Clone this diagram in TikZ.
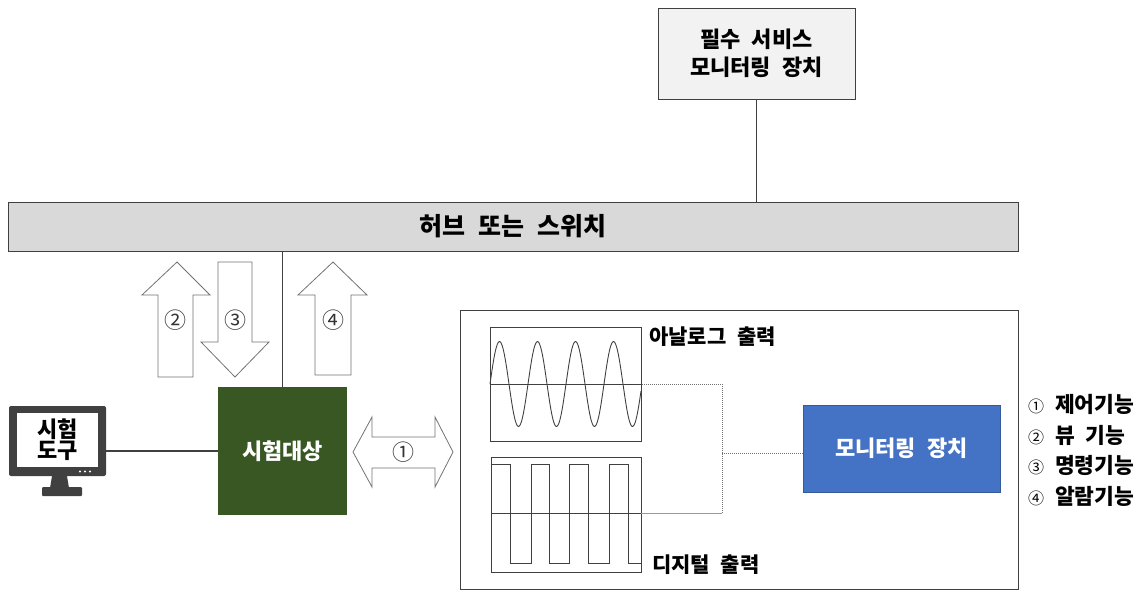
\documentclass[tikz,border=0pt]{standalone}
\usepackage{fontspec}
\setmainfont{Noto Sans CJK KR}[WordSpace=2.2]
\definecolor{hubgray}{HTML}{D9D9D9}
\definecolor{svcgray}{HTML}{F2F2F2}
\definecolor{dutgreen}{HTML}{385723}
\definecolor{monblue}{HTML}{4472C4}
\definecolor{edge}{HTML}{404040}

\begin{document}
\begin{tikzpicture}[x=1pt,y=-1pt,
    box/.style={draw=edge, line width=1pt, inner sep=0pt, align=center,
        font=\bfseries\fontsize{22}{28}\selectfont},
    blockarrow/.style={draw=black!55, fill=white, line width=0.8pt},
    num/.style={font=\fontsize{22}{22}\selectfont, text=black!80},
    lbl/.style={font=\bfseries\fontsize{21}{21}\selectfont, inner sep=0pt},
    wire/.style={draw=edge, line width=1.2pt},
    wave/.style={draw=edge, line width=0.9pt},
    dots/.style={draw=black!55, densely dotted, line width=1pt}]

    \useasboundingbox (0,0) rectangle (1137,590);

    % service monitor and hub
    \node[box, fill=svcgray, minimum width=197pt, minimum height=91pt] (svc)
        at (756.5,53.5) {필수 서비스\\모니터링 장치};
    \node[box, fill=hubgray, minimum width=1010pt, minimum height=49pt,
        font=\bfseries\fontsize{25}{25}\selectfont] (hub) at (513,226.5) {허브 또는 스위치};
    \draw[wire] (svc.south) -- (svc.south |- hub.north);

    % device under test
    \node[box, draw=none, fill=dutgreen, text=white, minimum width=129pt,
        minimum height=128pt] (dut) at (282.5,451) {시험대상};
    \draw[wire] (dut.north |- hub.south) -- (dut.north);

    % test tool
    \node[fill=edge, rounded corners=2pt, minimum width=97pt, minimum height=70pt,
        inner sep=0pt] (pc) at (57.5,441) {};
    \node[fill=white, minimum width=81pt, minimum height=54pt, inner sep=0pt, align=center,
        font=\bfseries\fontsize{22}{21}\selectfont] (tool) at (57.5,440) {시험\\도구};
    \fill[edge] (52,476) -- (67,476) -- (69,488) -- (50,488) -- cycle;
    \fill[edge, rounded corners=1pt] (42,487) rectangle (82,496);
    \foreach \dx in {80,85,90}
        \fill[white] (\dx,471.5) circle (1.2);
    \draw[wire] (pc.east |- dut.west) -- (dut.west);

    % block arrows
    \draw[blockarrow] (158,377) -- (158,295) -- (142,295) -- (177,262) -- (210,295)
        -- (193,295) -- (193,377) -- cycle;
    \node[num] (n2) at (175.5,320) {②};
    \draw[blockarrow] (218,262) -- (252,262) -- (252,342) -- (269,342) -- (235,377)
        -- (201,342) -- (218,342) -- cycle;
    \node[num] (n3) at (235,320) {③};
    \draw[blockarrow] (315,375) -- (315,295) -- (298,295) -- (333,262) -- (367,295)
        -- (351,295) -- (351,375) -- cycle;
    \node[num] (n4) at (333,320) {④};
    \draw[blockarrow] (353,452) -- (372,417) -- (372,437) -- (435,437) -- (435,417)
        -- (453,452) -- (435,487) -- (435,468) -- (372,468) -- (372,487) -- cycle;
    \node[num] (n1) at (403,452) {①};

    % measurement frame
    \draw[edge, line width=1pt] (460,310) rectangle (1018,589);

    % analog output
    \node[draw=edge, line width=1pt, minimum width=151pt, minimum height=114pt,
        inner sep=0pt] (ana) at (565.5,384) {};
    \draw[wave] (ana.west) -- (ana.east);
    \draw[wave, domain=0:151, samples=150, smooth]
        plot ({490+\x}, {384-42.5*sin(\x/38*360)});
    \node[lbl, anchor=west] (analbl) at (649,337) {아날로그 출력};

    % digital output
    \node[draw=edge, line width=1pt, minimum width=150pt, minimum height=115pt,
        inner sep=0pt] (dig) at (566,514.5) {};
    \coordinate (digout) at (641,513);
    \draw[wave] (491,513) -- (digout);
    \draw[wave] (491,464) -| (510,563) -| (531,464) -| (549,563) -| (569,464)
        -| (588,563) -| (609,464) -| (628,563) -- (641,563);
    \node[lbl, anchor=west] (diglbl) at (652,565) {디지털 출력};

    % monitoring device
    \node[box, draw=monblue!80!black, fill=monblue, text=white, minimum width=197pt,
        minimum height=87pt] (mon) at (901.5,448.5) {모니터링 장치};
    \coordinate (junc) at (722,453);
    \draw[dots] (ana.east) -| (junc |- digout);
    \draw[black!40, line width=1pt] (digout) -- (junc |- digout);
    \draw[dots] (junc) -- (junc -| mon.west);

    % legend
    \foreach \n/\t [count=\i] in {①/제어기능, ②/뷰 기능, ③/명령기능, ④/알람기능}
        \node[inner sep=0pt, anchor=west, font=\bfseries\fontsize{21.5}{21.5}\selectfont]
            (leg\i) at (1028,374+30.5*\i) {{\mdseries\fontsize{16}{16}\selectfont\n} \t};
\end{tikzpicture}
\end{document}
